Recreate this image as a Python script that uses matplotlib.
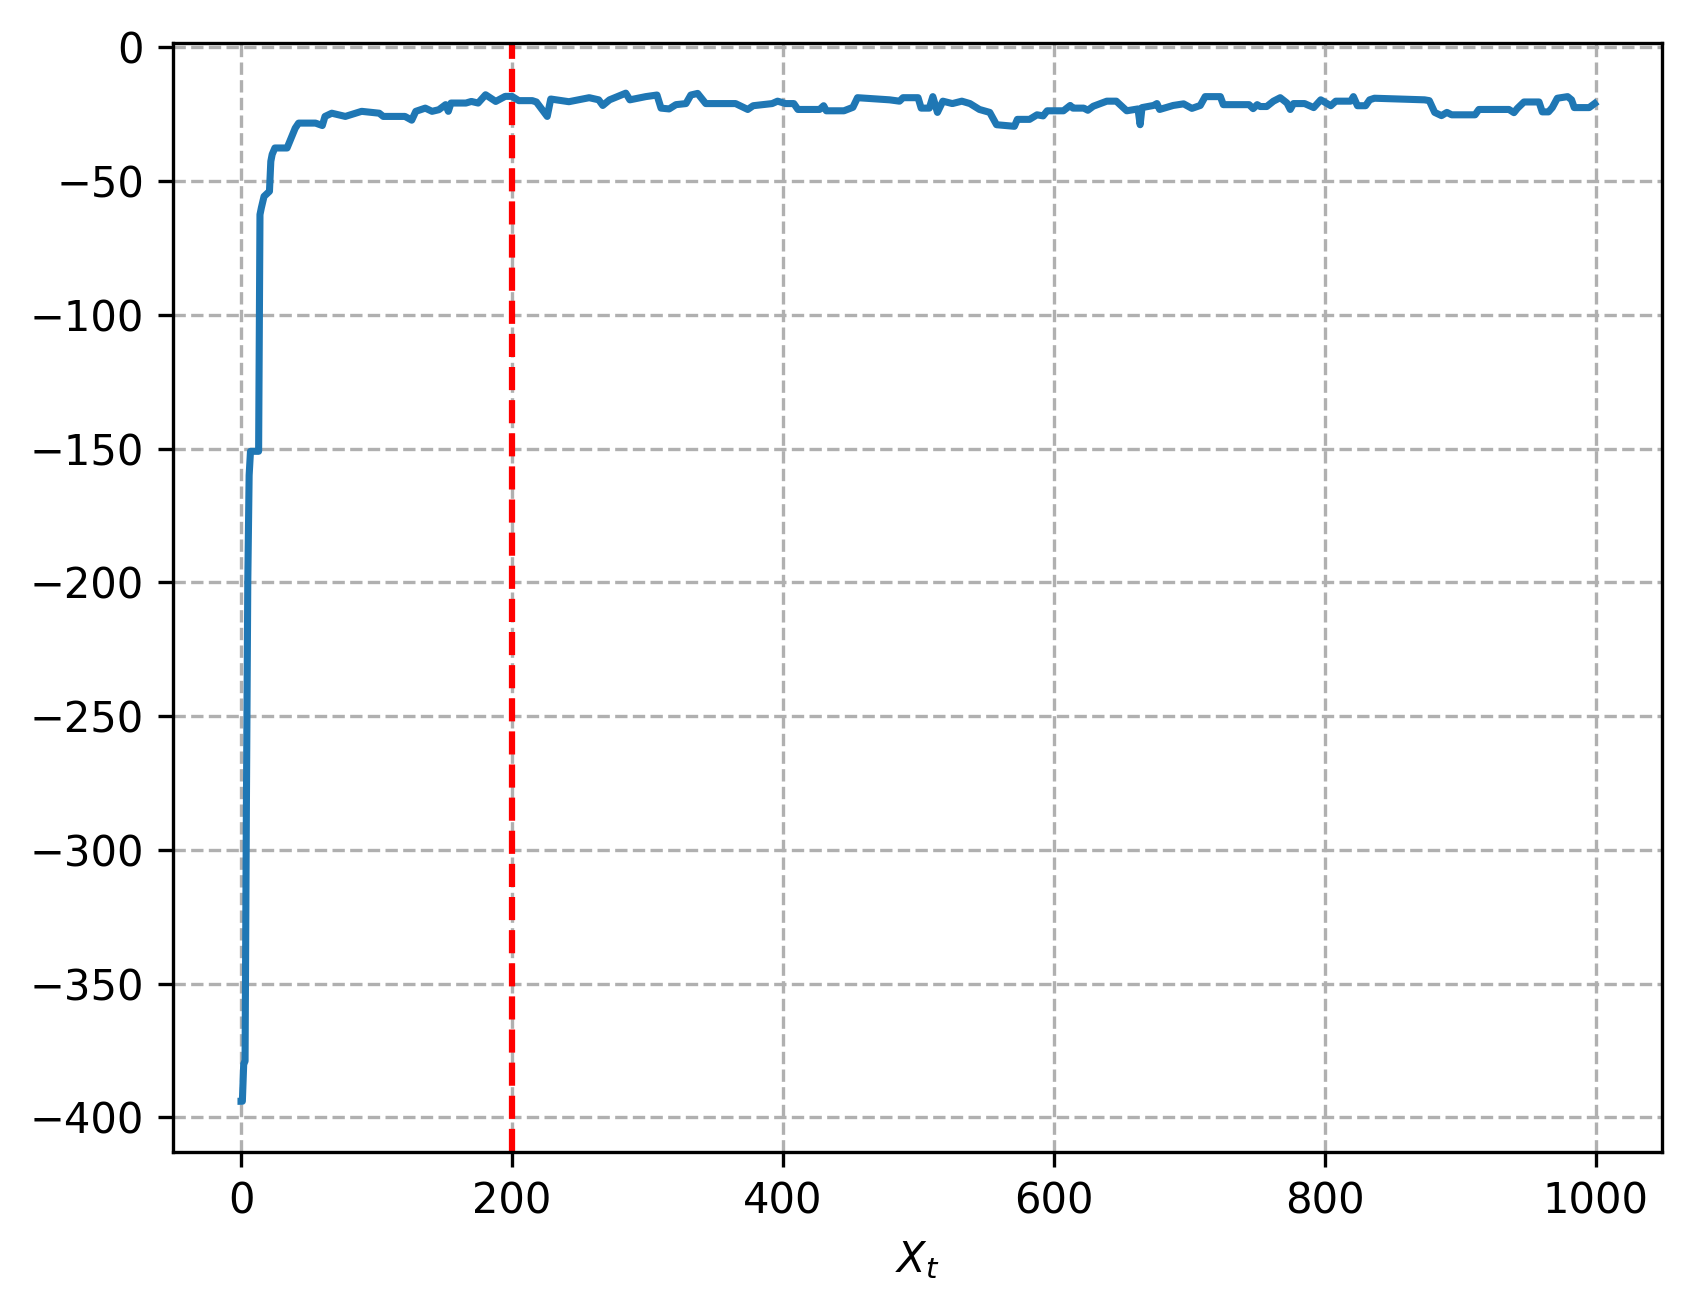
import matplotlib
matplotlib.use("Agg")
import matplotlib.pyplot as plt
import numpy as np

# Trace values (step index, value)
steps = [0, 1, 2, 3, 4, 5, 6, 7, 13, 14, 15, 17, 21, 22, 23, 25, 34, 36, 40, 42.5,
         55, 60, 62, 67, 77, 89, 102, 105, 121, 126, 129, 136, 141, 146, 151, 153,
         155, 166, 170, 175, 180.5, 188, 195, 200, 205, 215, 218, 226, 228.6, 242,
         257, 264, 267, 272, 284, 287, 298.7, 307, 310, 316, 321, 328.4, 332, 337,
         343, 365, 374, 378, 392, 396, 402, 408, 411, 427, 430, 432, 445, 451.6,
         455, 478.7, 486, 488.6, 499.7, 502, 508, 510.6, 514, 518, 525, 532, 538,
         545, 552.6, 557.6, 570.8, 573, 582, 587.5, 592, 595, 607, 612, 614, 622,
         625, 629, 639, 646, 653.7, 662, 663.6, 665, 673.5, 676, 678, 688, 695.7,
         701.8, 708, 711.6, 722.8, 725, 744, 747, 750, 752.2, 757, 762, 767, 772,
         774.4, 776.8, 785, 791.7, 796.9, 804.3, 808, 819, 821, 824, 830, 833,
         836.5, 873.5, 877, 881, 886, 890, 893.5, 910.8, 913.6, 935.8, 939.5, 942,
         946.9, 958, 960.4, 965, 967.8, 971.5, 979.1, 982, 984, 995, 999]
values = [-394, -394, -380, -379, -282, -200, -160, -151, -151, -62.5, -60, -55.7,
          -53.8, -42.6, -40, -37.6, -37.6, -35.1, -30.2, -28.3,
          -28.3, -29.2, -25.8, -24.6, -25.8, -23.9, -24.6, -25.8, -25.8, -27.2,
          -23.9, -22.7, -23.9, -23.3, -21.4, -23.9,
          -20.8, -20.8, -20.2, -20.8, -17.7, -20.2, -18.3, -18.3, -19.9, -19.9,
          -20.4, -25.8, -19.3, -20.3,
          -18.8, -19.6, -21.7, -19.6, -17.1, -19.6, -18.4, -17.8, -22.7, -23.0,
          -21.4, -21.0, -17.8, -17.2,
          -21.0, -21.0, -23.2, -21.8, -21.0, -20.1, -21.0, -21.0, -23.2, -23.2,
          -21.8, -23.7, -23.7, -22.4,
          -18.8, -19.6, -20.1, -18.8, -18.8, -22.7, -22.7, -18.4, -24.3, -20.1,
          -21.0, -20.1, -21.0,
          -23.2, -24.3, -28.9, -29.5, -26.9, -26.9, -25.2, -25.6, -23.7, -23.7,
          -21.7, -22.7, -22.7,
          -23.5, -22.0, -20.1, -20.1, -23.7, -23.0, -28.9, -22.5, -21.7, -21.0,
          -23.2, -21.7, -21.1,
          -22.8, -21.7, -18.4, -18.4, -21.4, -21.4, -22.9, -21.4, -22.1, -22.1,
          -20.1, -18.8, -20.8,
          -23.2, -21.0, -21.0, -22.5, -19.6, -21.8, -20.1, -20.1, -18.4, -21.8,
          -21.8, -19.6,
          -19.0, -19.6, -19.9, -24.3, -25.5, -24.3, -25.2, -25.2, -23.2, -23.2,
          -24.4, -22.8,
          -20.4, -20.4, -24.1, -24.1, -22.5, -19.0, -18.4, -19.6, -22.5, -22.5,
          -21.0]

burn_in = 200
x_label = r"$X_t$"

fig = plt.figure(figsize=(1691 / 300, 1311 / 300), dpi=300)
ax = fig.add_axes([0.1025, 0.1215, 0.8805, 0.8459])
ax.plot(steps, values, color="#1f77b4", linewidth=1.7)
ax.axvline(burn_in, color="red", linestyle="--", linewidth=1.5)
ax.grid(True, linestyle="--")
ax.set_xlabel(x_label)
ax.set_xticks([0, 200, 400, 600, 800, 1000])
ax.set_yticks([0, -50, -100, -150, -200, -250, -300, -350, -400])
fig.savefig("out.png", dpi=300)
